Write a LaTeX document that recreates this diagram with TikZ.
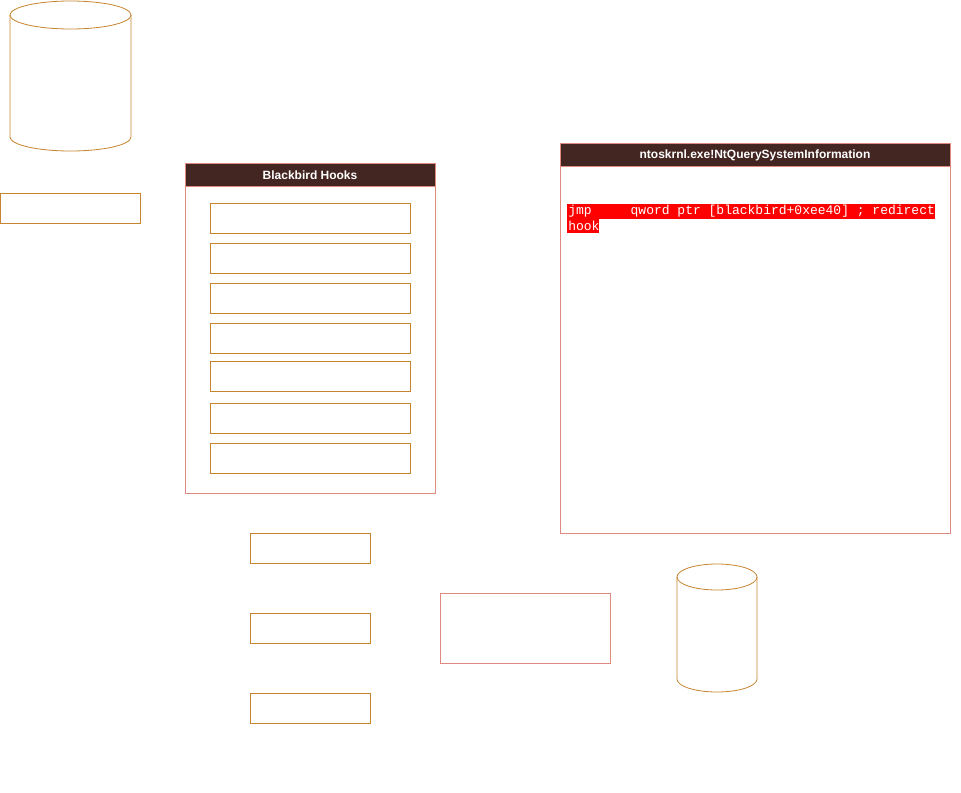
\documentclass[tikz,border=0pt]{standalone}
\usepackage{fontspec}
\setmainfont{Liberation Sans}
\newfontfamily\monofnt{Liberation Mono}
\definecolor{hdr}{HTML}{432622}
\definecolor{brd}{HTML}{E0897E}
\definecolor{org}{HTML}{C7842F}
\definecolor{hl}{HTML}{FF0000}
\begin{document}
\begin{tikzpicture}[x=0.75pt,y=-0.75pt,
  ob/.style={draw=org,line width=0.6pt},
  pb/.style={draw=brd,line width=0.6pt},
  hd/.style={fill=hdr,draw=brd,line width=0.6pt},
  ht/.style={text=white,font=\bfseries\fontsize{9}{10}\selectfont},
  code/.style={text=white,font=\monofnt\fontsize{9.75}{10}\selectfont,inner sep=0pt,anchor=west}]
\useasboundingbox (0,0) rectangle (961,793);
% cylinder 1
\draw[ob,fill=white] (10,15) -- (10,137) arc[start angle=180,end angle=0,x radius=60.5,y radius=14] -- (131,15);
\draw[ob] (70.5,15) ellipse[x radius=60.5,y radius=14];
% cylinder 2
\draw[ob,fill=white] (677,577) -- (677,679) arc[start angle=180,end angle=0,x radius=40,y radius=13] -- (757,577);
\draw[ob] (717,577) ellipse[x radius=40,y radius=13];
% left box
\draw[ob] (0,193) rectangle (140,223);
% blackbird hooks
\draw[pb] (185,163) rectangle (435,493);
\draw[hd] (185,163) rectangle (435,186);
\node[ht] (bh) at (310,175) {Blackbird Hooks};
\foreach \y in {203,243,283,323,361,403,443}
  \draw[ob] (210,\y) rectangle (410,\y+30);
% small boxes
\foreach \y in {533,613,693}
  \draw[ob] (250,\y) rectangle (370,\y+30);
\draw[pb] (440,593) rectangle (610,663);
% nt panel
\draw[pb] (560,143) rectangle (950,533);
\draw[hd] (560,143) rectangle (950,166);
\node[ht] (nt) at (755,155) {ntoskrnl.exe!NtQuerySystemInformation};
\fill[hl] (567,203.5) rectangle (935,218.5);
\fill[hl] (567,218.5) rectangle (599,233);
\node[code] (c1) at (568,211) {jmp\ \ \ \ \ qword ptr [blackbird+0xee40] ; redirect};
\node[code] (c2) at (568,226) {hook};
\end{tikzpicture}
\end{document}
